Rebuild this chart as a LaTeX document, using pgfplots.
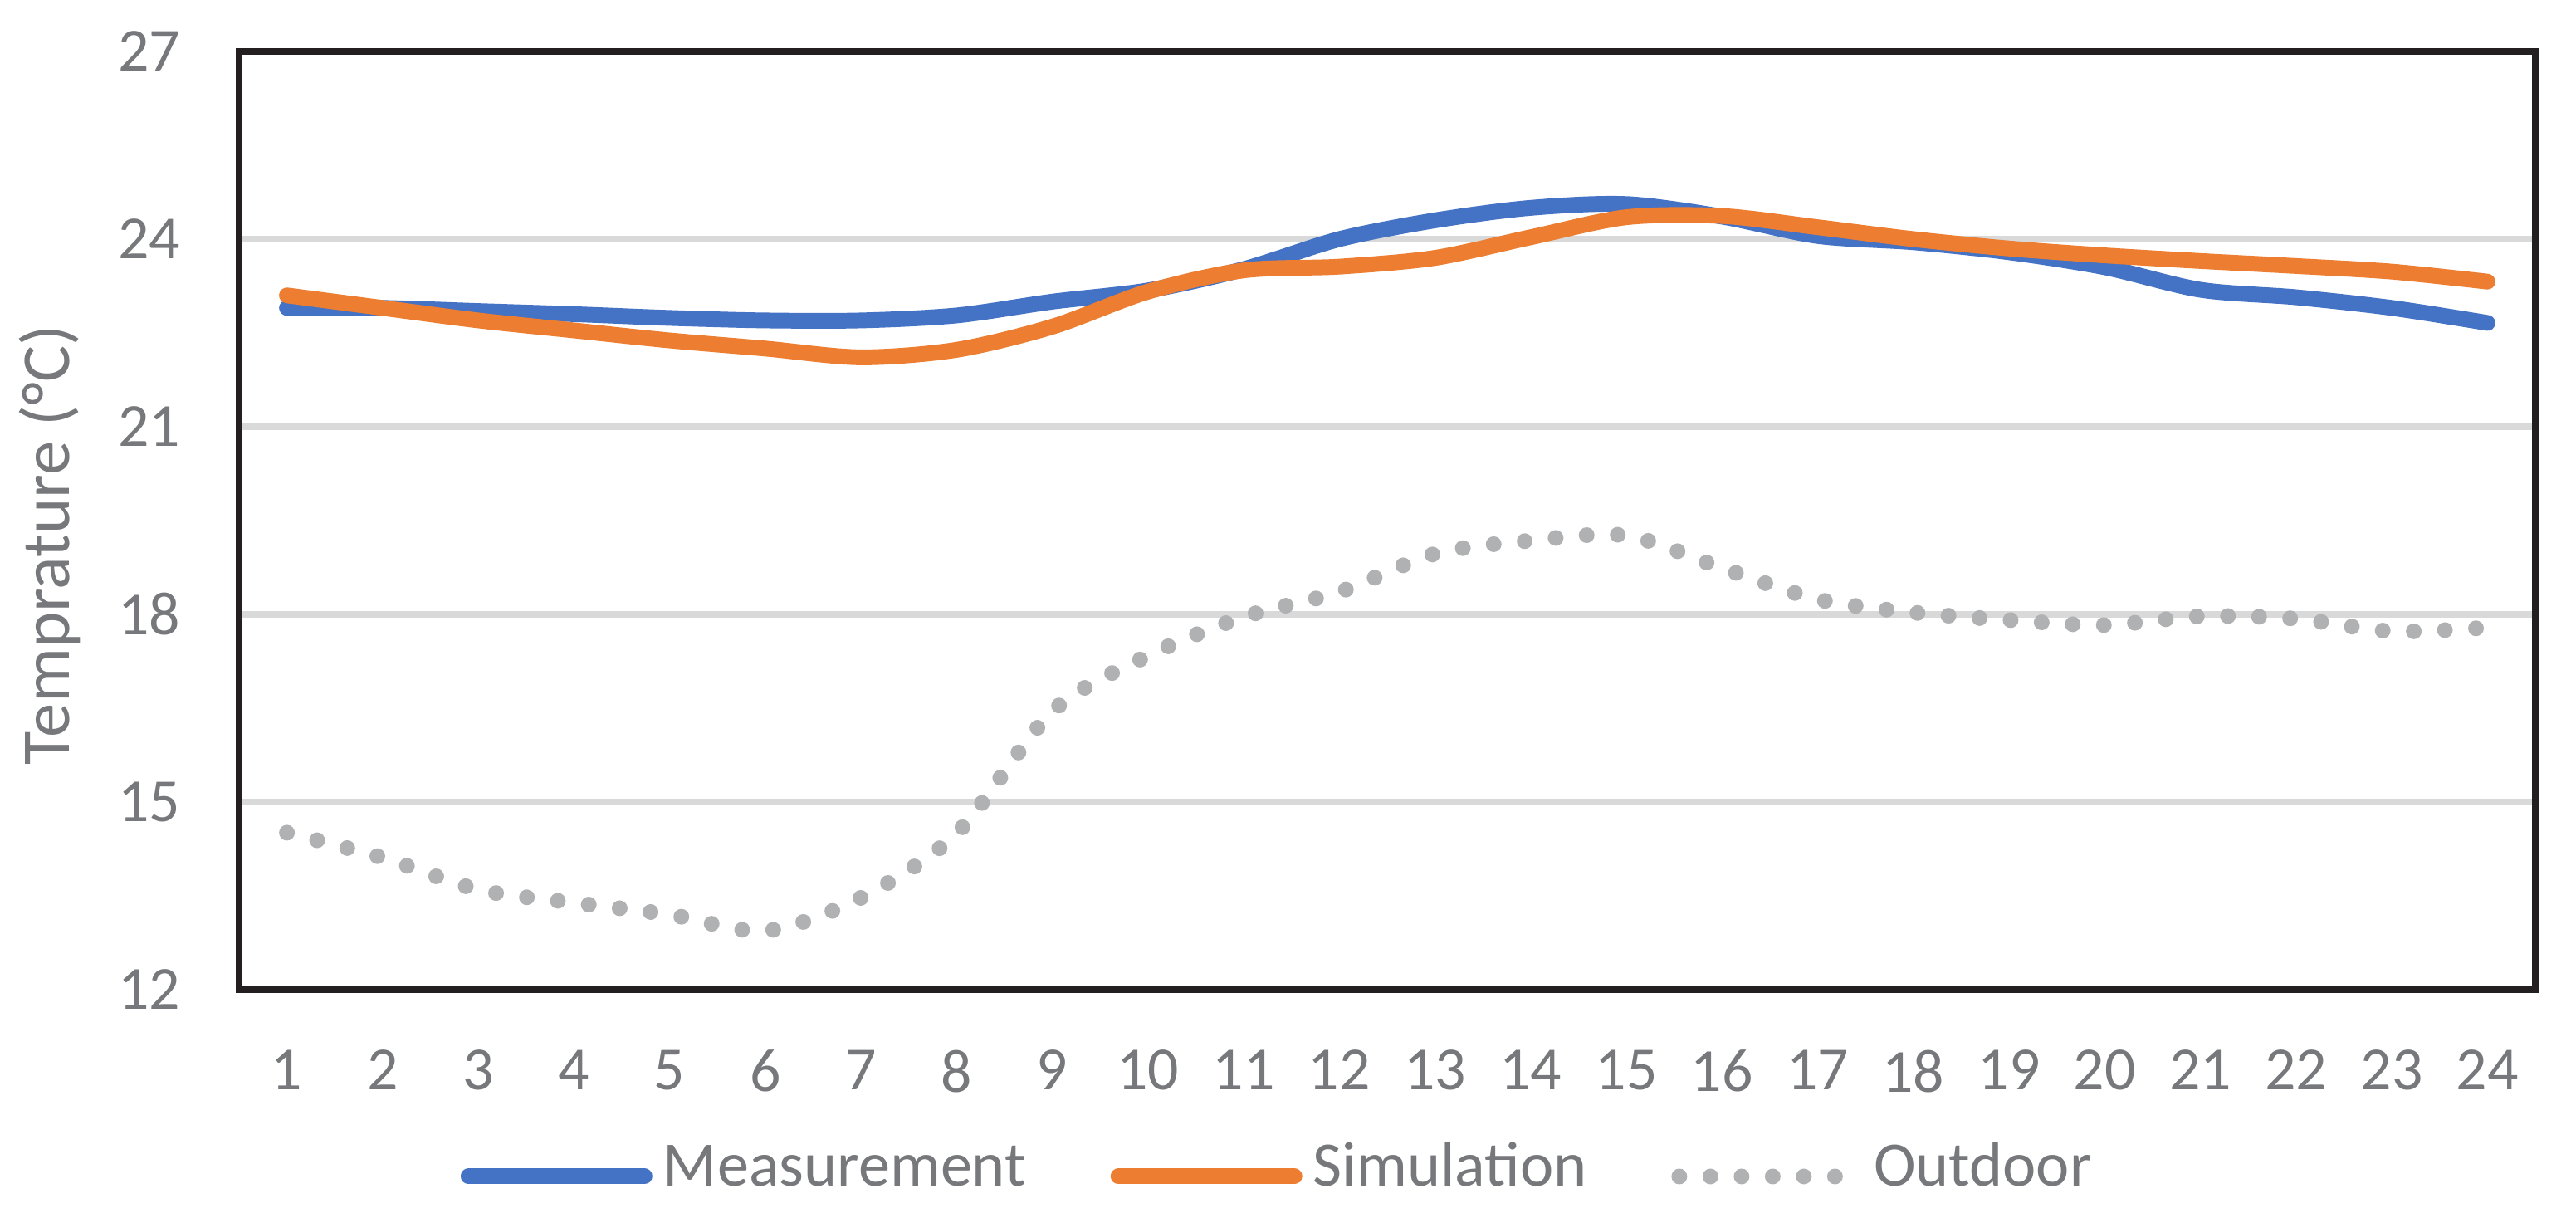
\documentclass[border=0pt]{standalone}
\usepackage{fontspec}
\setmainfont{Carlito}
\usepackage{pgfplots}
\usepackage{pgfplotstable}
\pgfplotsset{compat=1.18}
\definecolor{meas}{RGB}{68,114,196}
\definecolor{simu}{RGB}{237,125,49}
\definecolor{outd}{RGB}{176,177,179}
\definecolor{txtgray}{RGB}{119,120,123}
\definecolor{framecol}{RGB}{35,31,32}
\definecolor{gridgray}{RGB}{217,217,217}

\pgfplotstableread{
h   meas   simu   outd
1   22.90  23.10  14.51
2   22.90  22.90  14.11
3   22.85  22.70  13.60
4   22.80  22.54  13.39
5   22.74  22.38  13.20
6   22.70  22.25  12.94
7   22.70  22.11  13.47
8   22.78  22.23  14.50
9   23.00  22.60  16.45
10  23.18  23.16  17.34
11  23.52  23.50  17.96
12  24.00  23.56  18.36
13  24.30  23.70  18.97
14  24.50  24.03  19.18
15  24.56  24.35  19.26
16  24.36  24.37  18.74
17  24.05  24.19  18.24
18  23.95  24.00  18.03
19  23.79  23.85  17.91
20  23.55  23.74  17.83
21  23.19  23.65  17.97
22  23.07  23.57  17.93
23  22.90  23.48  17.73
24  22.66  23.32  17.79
}\datatab

\begin{document}
\begin{tikzpicture}
\path[use as bounding box] (-28.8mm,-27.4mm) rectangle (281.5mm,119.2mm);
\begin{axis}[
  at={(0,0)}, anchor=south west,
  width=276.6mm, height=113.0mm, scale only axis,
  xmin=0.5, xmax=24.5, ymin=12, ymax=27,
  xtick={1,...,24}, ytick={12,15,...,27},
  /pgf/number format/assume math mode=true,
  major tick length=0pt,
  axis line style={line width=2.5pt, draw=framecol, line join=miter},
  ymajorgrids, grid style={line width=2pt, draw=gridgray},
  tick label style={font=\fontsize{21}{25}\selectfont, text=txtgray, inner sep=0pt},
  xticklabel style={anchor=north, yshift=-7.2mm},
  yticklabel style={anchor=east, xshift=-7.0mm},
  ylabel={Temprature (°C)},
  ylabel style={font=\fontsize{23.5}{28}\selectfont, text=txtgray, at={(axis description cs:-0.0824,0.4743)}, anchor=center, inner sep=0pt},
  legend columns=3,
  legend style={at={(axis description cs:0.0965,-0.1991)}, anchor=west, draw=none, fill=none,
    inner sep=0pt, outer sep=0pt, font=\fontsize{21.7}{26}\selectfont, text=txtgray,
    nodes={inner sep=0pt, text height=0.644em, text depth=0pt},
    cells={anchor=west},
    /tikz/every odd column/.style={column sep=1.3mm},
    /tikz/every even column/.style={column sep=10.2mm}},
  legend image code/.code={\draw[#1] (0mm,0mm) -- (21.2mm,0mm);},
  every axis plot/.append style={line width=5.4pt, line cap=round, line join=round, no marks, smooth},
]
\addplot[meas] table[x=h, y=meas] {\datatab};
\addlegendentry{Measurement}
\addplot[simu] table[x=h, y=simu] {\datatab};
\addlegendentry{Simulation}
\addplot[outd, dash pattern=on 0pt off 3.75mm] table[x=h, y=outd] {\datatab};
\addlegendentry{Outdoor}
\end{axis}
\end{tikzpicture}
\end{document}
